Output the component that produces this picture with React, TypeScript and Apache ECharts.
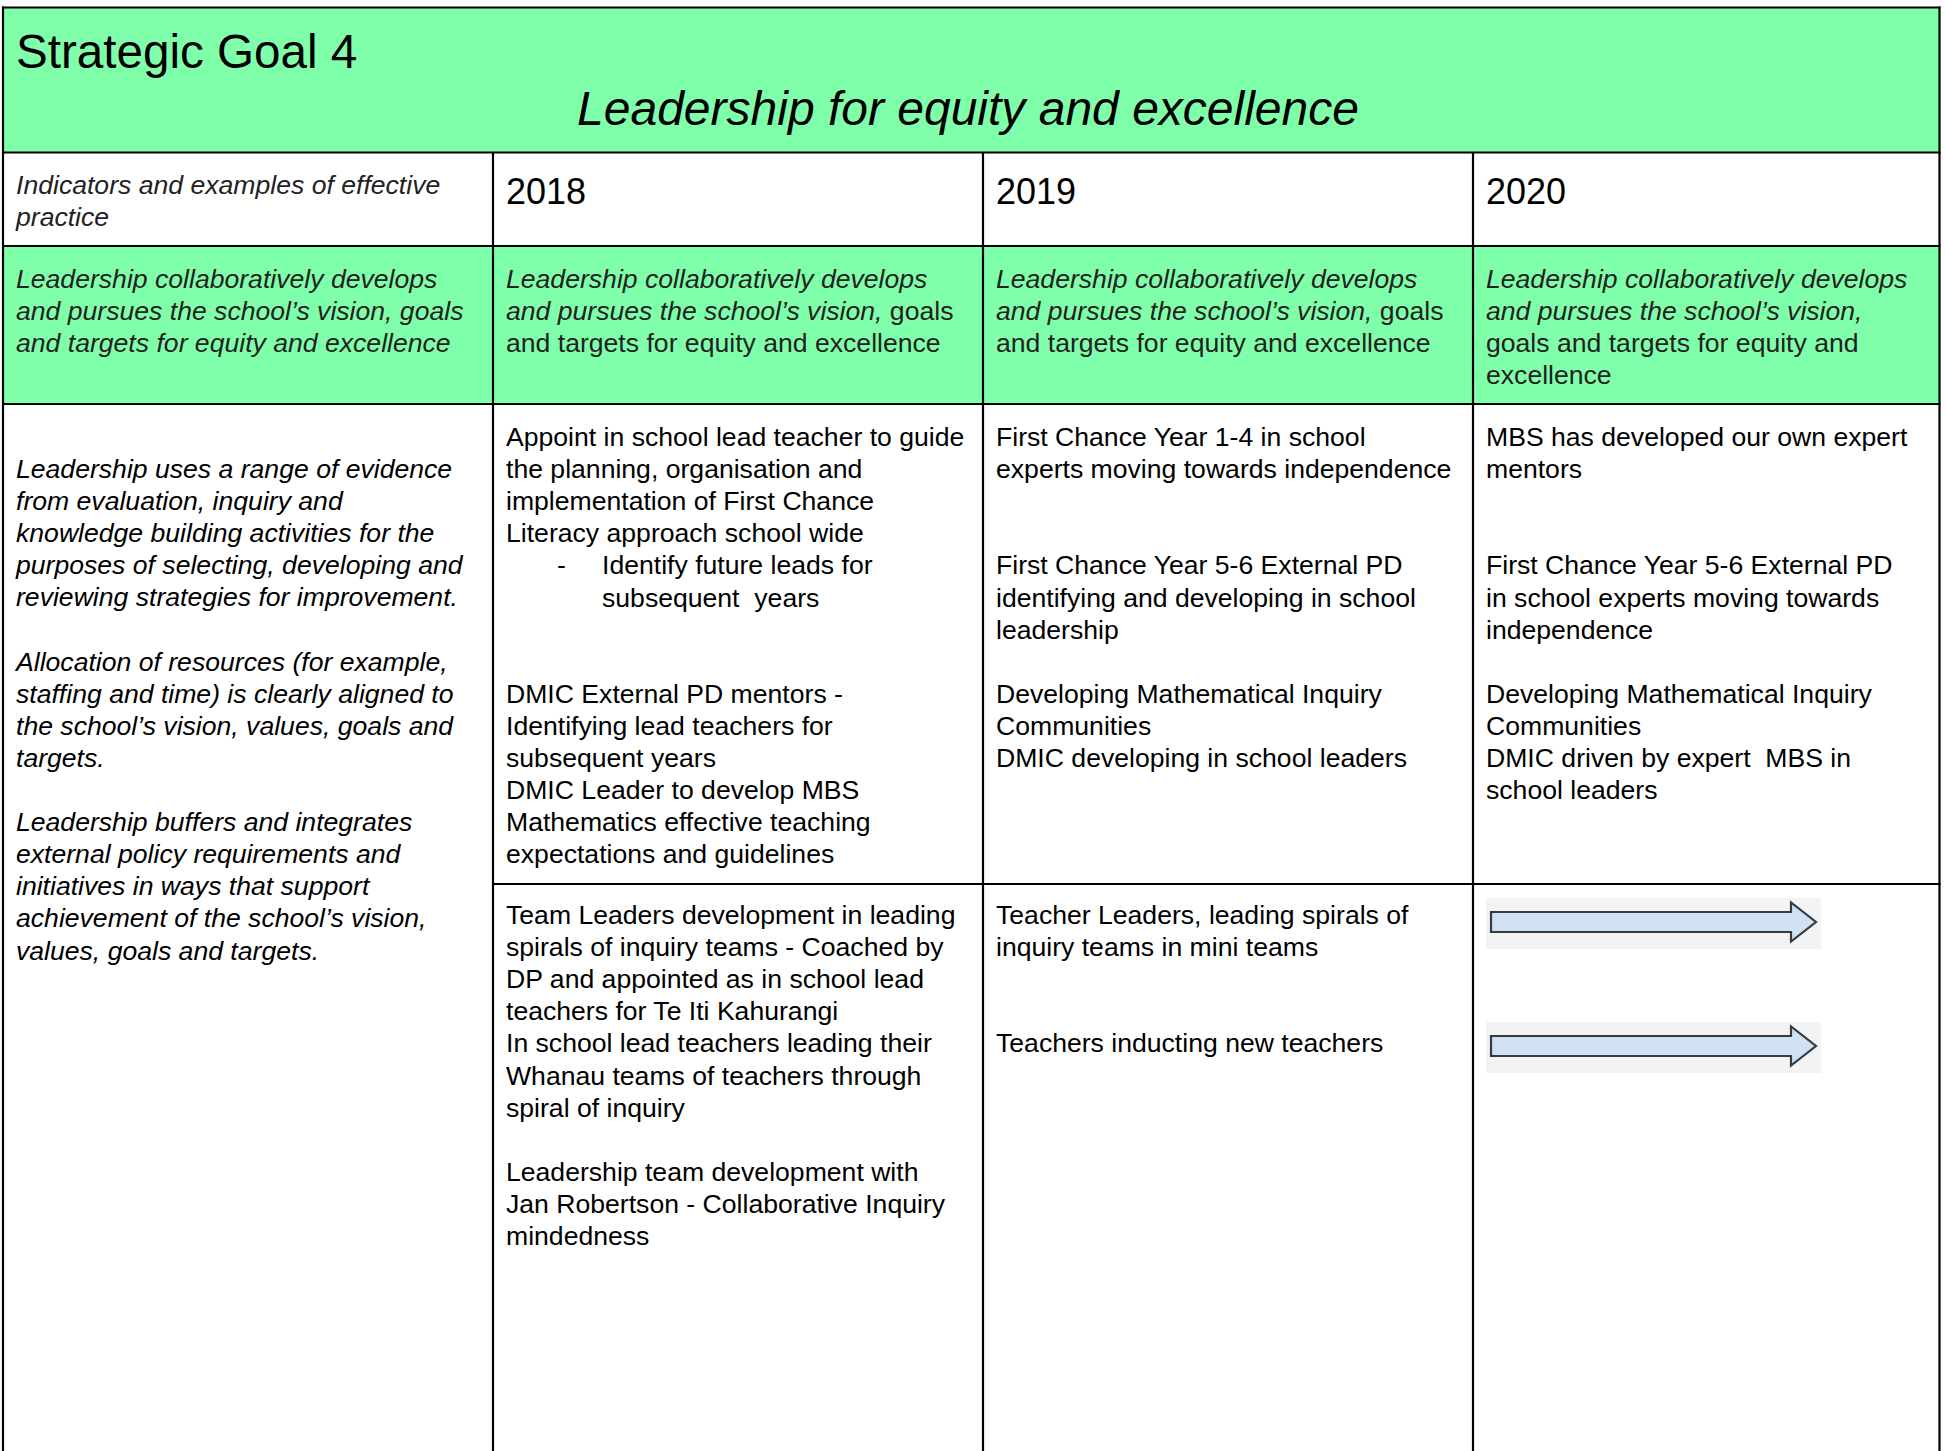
import React, { useEffect, useRef } from "react";
import * as echarts from "echarts";

// ---------- content ----------
const TITLE = "Strategic Goal 4";
const SUBTITLE = "Leadership for equity and excellence";
const HEADER_LEFT = ["Indicators and examples of effective", "practice"];
const YEARS = ["2018", "2019", "2020"];

type Seg = [string, boolean]; // [text, italic]
const GOAL_LEFT: Seg[][] = [
  [["Leadership collaboratively develops", true]],
  [["and pursues the school\u2019s vision, goals", true]],
  [["and targets for equity and excellence", true]],
];
const GOAL_2018: Seg[][] = [
  [["Leadership collaboratively develops", true]],
  [["and pursues the school\u2019s vision, ", true], ["goals", false]],
  [["and targets for equity and excellence", false]],
];
const GOAL_2019: Seg[][] = [
  [["Leadership collaboratively develops", true]],
  [["and pursues the school\u2019s vision, ", true], ["goals", false]],
  [["and targets for equity and excellence", false]],
];
const GOAL_2020: Seg[][] = [
  [["Leadership collaboratively develops", true]],
  [["and pursues the school\u2019s vision,", true]],
  [["goals and targets for equity and", false]],
  [["excellence", false]],
];

const INDICATORS = [
  "Leadership uses a range of evidence",
  "from evaluation, inquiry and",
  "knowledge building activities for the",
  "purposes of selecting, developing and",
  "reviewing strategies for improvement.",
  "",
  "Allocation of resources (for example,",
  "staffing and time) is clearly aligned to",
  "the school\u2019s vision, values, goals and",
  "targets.",
  "",
  "Leadership buffers and integrates",
  "external policy requirements and",
  "initiatives in ways that support",
  "achievement of the school\u2019s vision,",
  "values, goals and targets.",
];

type BodyLine = string | { dash: boolean; text: string };
const ACTIONS_2018_A: BodyLine[] = [
  "Appoint in school lead teacher to guide",
  "the planning, organisation and",
  "implementation of First Chance",
  "Literacy approach school wide",
  { dash: true, text: "Identify future leads for" },
  { dash: false, text: "subsequent  years" },
  "",
  "",
  "DMIC External PD mentors -",
  "Identifying lead teachers for",
  "subsequent years",
  "DMIC Leader to develop MBS",
  "Mathematics effective teaching",
  "expectations and guidelines",
];
const ACTIONS_2018_B: BodyLine[] = [
  "Team Leaders development in leading",
  "spirals of inquiry teams - Coached by",
  "DP and appointed as in school lead",
  "teachers for Te Iti Kahurangi",
  "In school lead teachers leading their",
  "Whanau teams of teachers through",
  "spiral of inquiry",
  "",
  "Leadership team development with",
  "Jan Robertson - Collaborative Inquiry",
  "mindedness",
];
const ACTIONS_2019_A: BodyLine[] = [
  "First Chance Year 1-4 in school",
  "experts moving towards independence",
  "",
  "",
  "First Chance Year 5-6 External PD",
  "identifying and developing in school",
  "leadership",
  "",
  "Developing Mathematical Inquiry",
  "Communities",
  "DMIC developing in school leaders",
];
const ACTIONS_2019_B: BodyLine[] = [
  "Teacher Leaders, leading spirals of",
  "inquiry teams in mini teams",
  "",
  "",
  "Teachers inducting new teachers",
];
const ACTIONS_2020_A: BodyLine[] = [
  "MBS has developed our own expert",
  "mentors",
  "",
  "",
  "First Chance Year 5-6 External PD",
  "in school experts moving towards",
  "independence",
  "",
  "Developing Mathematical Inquiry",
  "Communities",
  "DMIC driven by expert  MBS in",
  "school leaders",
];
// rows in the 2020 lower cell that carry a "continues" arrow
const ARROW_ROWS = [0, 4];

// ---------- layout ----------
const W = 1946;
const H = 1451;
const COLS = [3, 493, 983, 1473, 1939.5];
const ROW_TOP = 7.5;
const ROW_TITLE_END = 152.5;
const ROW_HEAD_END = 246;
const ROW_GOAL_END = 404;
const ROW_SPLIT = 884;
const PAD = 13;
const LH = 32.1;
const FONT = '"Liberation Sans", Arial, Helvetica, sans-serif';
const GREEN = "#80ffaa";
const BODY_SIZE = 26.6;

function plainText(x: number, y: number, text: string, opts: any = {}) {
  return {
    type: "text",
    x,
    y,
    z: 10,
    silent: true,
    style: {
      text,
      fill: opts.fill || "#000",
      fontFamily: FONT,
      fontSize: opts.size || BODY_SIZE,
      fontStyle: opts.italic ? "italic" : "normal",
      align: opts.align || "left",
      verticalAlign: "middle",
    },
  };
}

function richLine(x: number, y: number, segs: Seg[], fill: string) {
  const rich: any = {
    i: { fontFamily: FONT, fontSize: BODY_SIZE, fontStyle: "italic", fill },
    r: { fontFamily: FONT, fontSize: BODY_SIZE, fontStyle: "normal", fill },
  };
  const text = segs.map(([t, it]) => `{${it ? "i" : "r"}|${t}}`).join("");
  return {
    type: "text",
    x,
    y,
    z: 10,
    silent: true,
    style: {
      text,
      rich,
      fill,
      fontFamily: FONT,
      fontSize: BODY_SIZE,
      align: "left",
      verticalAlign: "middle",
    },
  };
}

function bodyLines(x: number, y0: number, lines: BodyLine[], italic = false) {
  const out: any[] = [];
  lines.forEach((ln, i) => {
    const y = y0 + i * LH;
    if (typeof ln === "string") {
      if (ln) out.push(plainText(x, y, ln, { italic }));
    } else {
      if (ln.dash) out.push(plainText(x + 51, y, "-"));
      out.push(plainText(x + 96, y, ln.text));
    }
  });
  return out;
}

function hLine(x1: number, x2: number, y: number) {
  return {
    type: "line",
    z: 5,
    silent: true,
    shape: { x1, y1: y, x2, y2: y },
    style: { stroke: "#000", lineWidth: 2.2 },
  };
}
function vLine(x: number, y1: number, y2: number) {
  return {
    type: "line",
    z: 5,
    silent: true,
    shape: { x1: x, y1, x2: x, y2 },
    style: { stroke: "#000", lineWidth: 2.2 },
  };
}

function arrow(x: number, yc: number) {
  const bg = {
    type: "rect",
    z: 3,
    silent: true,
    shape: { x: x, y: yc - 24, width: 335, height: 51 },
    style: { fill: "#f3f3f3" },
  };
  const sx = x + 5;
  const hx = x + 305;
  const tip = x + 330;
  const shape = {
    type: "polygon",
    z: 4,
    silent: true,
    shape: {
      points: [
        [sx, yc - 10],
        [hx, yc - 10],
        [hx, yc - 19.5],
        [tip, yc],
        [hx, yc + 19.5],
        [hx, yc + 10],
        [sx, yc + 10],
      ],
    },
    style: { fill: "#cfe2f3", stroke: "#3a3a3a", lineWidth: 2.2, lineJoin: "miter" },
  };
  return [bg, shape];
}

export default function App() {
  const ref = useRef<HTMLDivElement>(null);
  useEffect(() => {
    if (!ref.current) return;
    const chart = echarts.init(ref.current, undefined, { renderer: "svg", width: W, height: H });
    const els: any[] = [];

    els.push({ type: "rect", z: 1, silent: true, shape: { x: 0, y: 0, width: W, height: H }, style: { fill: "#fff" } });
    els.push({
      type: "rect", z: 2, silent: true,
      shape: { x: COLS[0], y: ROW_TOP, width: COLS[4] - COLS[0], height: ROW_TITLE_END - ROW_TOP },
      style: { fill: GREEN },
    });
    els.push({
      type: "rect", z: 2, silent: true,
      shape: { x: COLS[0], y: ROW_HEAD_END, width: COLS[4] - COLS[0], height: ROW_GOAL_END - ROW_HEAD_END },
      style: { fill: GREEN },
    });

    els.push(hLine(COLS[0] - 1, COLS[4] + 1, ROW_TOP));
    els.push(hLine(COLS[0] - 1, COLS[4] + 1, ROW_TITLE_END));
    els.push(hLine(COLS[0] - 1, COLS[4] + 1, ROW_HEAD_END));
    els.push(hLine(COLS[0] - 1, COLS[4] + 1, ROW_GOAL_END));
    els.push(hLine(COLS[1] - 1, COLS[4] + 1, ROW_SPLIT));
    els.push(vLine(COLS[0], ROW_TOP - 1, H));
    els.push(vLine(COLS[4], ROW_TOP - 1, H));
    for (let c = 1; c <= 3; c++) els.push(vLine(COLS[c], ROW_TITLE_END, H));

    els.push(plainText(16, 51, TITLE, { size: 47.6 }));
    els.push(plainText(968, 108, SUBTITLE, { size: 48, italic: true, align: "center" }));

    HEADER_LEFT.forEach((t, i) => els.push(plainText(COLS[0] + PAD, 185 + i * LH, t, { italic: true, fill: "#222" })));
    YEARS.forEach((t, i) => els.push(plainText(COLS[i + 1] + PAD, 191, t, { size: 36 })));

    const goals = [GOAL_LEFT, GOAL_2018, GOAL_2019, GOAL_2020];
    goals.forEach((g, c) => {
      g.forEach((segs, i) => els.push(richLine(COLS[c] + PAD, 279 + i * LH, segs, "#222")));
    });

    els.push(...bodyLines(COLS[0] + PAD, 469, INDICATORS, true));
    els.push(...bodyLines(COLS[1] + PAD, 437, ACTIONS_2018_A));
    els.push(...bodyLines(COLS[2] + PAD, 437, ACTIONS_2019_A));
    els.push(...bodyLines(COLS[3] + PAD, 437, ACTIONS_2020_A));
    els.push(...bodyLines(COLS[1] + PAD, 915, ACTIONS_2018_B));
    els.push(...bodyLines(COLS[2] + PAD, 915, ACTIONS_2019_B));

    ARROW_ROWS.forEach((r) => {
      els.push(...arrow(COLS[3] + 13, 922 + r * 31));
    });

    chart.setOption({
      animation: false,
      backgroundColor: "#fff",
      graphic: { elements: els },
    });
    return () => chart.dispose();
  }, []);
  return <div ref={ref} style={{ position: "absolute", left: 0, top: 0, width: W, height: H }} />;
}
